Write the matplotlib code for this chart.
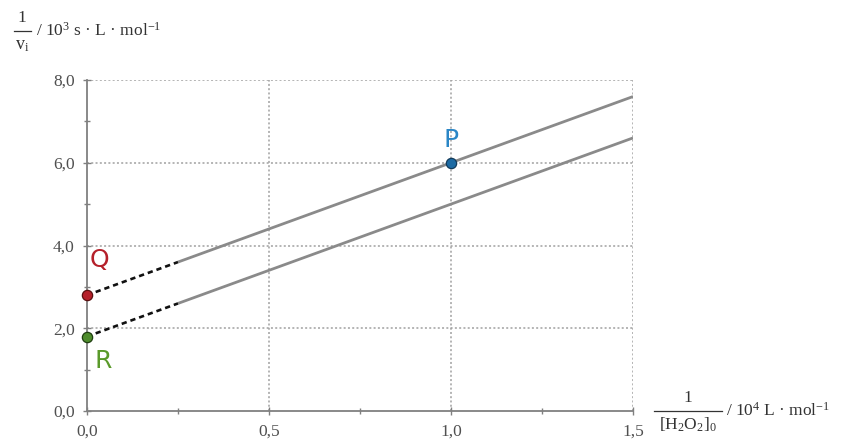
import matplotlib
matplotlib.use("Agg")
import matplotlib.pyplot as plt
import numpy as np

plt.rcParams['font.family'] = ['Liberation Serif', 'DejaVu Serif']
plt.rcParams['mathtext.fontset'] = 'custom'
plt.rcParams['mathtext.rm'] = 'Liberation Serif'
plt.rcParams['mathtext.it'] = 'Liberation Serif:italic'

# Lineweaver-Burk style lines: 1/v_i = intercept + slope * 1/[H2O2]_0
slope = 3.2
intercept_q = 2.8
intercept_r = 1.8
x_dash_end = 0.25
x_max = 1.5
point_p = (1.0, 6.0)

x_ticks = [0.0, 0.5, 1.0, 1.5]
x_tick_labels = ["0,0", "0,5", "1,0", "1,5"]
y_ticks = [0.0, 2.0, 4.0, 6.0, 8.0]
y_tick_labels = ["0,0", "2,0", "4,0", "6,0", "8,0"]

fig = plt.figure(figsize=(8.46, 4.41), dpi=100)
ax = fig.add_axes([87/846, 1-411/441, (633-87)/846, (411-80)/441])
ax.set_xlim(0, 1.5)
ax.set_ylim(0, 8)

line_col = '#8a8a8a'
for b in (intercept_q, intercept_r):
    xs = np.array([x_dash_end, x_max])
    ax.plot(xs, b + slope*xs, color=line_col, lw=2.0, zorder=3, solid_capstyle='butt')
    xd = np.array([0.0, x_dash_end])
    ax.plot(xd, b + slope*xd, color='#111111', lw=1.9, ls=(0, (2.0, 1.5)), zorder=3)

ax.scatter([point_p[0]], [point_p[1]], s=55, color='#1c6aa3', edgecolor='#123a5a', lw=0.9, zorder=5, clip_on=False)
ax.scatter([0.0], [intercept_q], s=55, color='#b5202a', edgecolor='#5a1010', lw=0.9, zorder=5, clip_on=False)
ax.scatter([0.0], [intercept_r], s=55, color='#4e8c2c', edgecolor='#1f3e10', lw=0.9, zorder=5, clip_on=False)

ax.text(point_p[0], point_p[1] + 0.55, "P", color='#2a86c6', fontsize=18, family='DejaVu Sans',
        ha='center', va='center')
ax.text(0.035, intercept_q + 0.85, "Q", color='#b5202a', fontsize=18, family='DejaVu Sans',
        ha='center', va='center')
ax.text(0.045, intercept_r - 0.6, "R", color='#5a9a2a', fontsize=18, family='DejaVu Sans',
        ha='center', va='center')

# grid
for xv in x_ticks[1:]:
    ax.axvline(xv, color='#a0a0a0', lw=1.1, ls=(0, (1.3, 1.5)), zorder=1)
for yv in y_ticks[1:]:
    ax.axhline(yv, color='#a0a0a0', lw=1.1, ls=(0, (1.3, 1.5)), zorder=1)

for s in ('top', 'right'):
    ax.spines[s].set_visible(False)
for s in ('left', 'bottom'):
    ax.spines[s].set_color('#808080')
    ax.spines[s].set_linewidth(1.3)

ax.set_xticks(x_ticks)
ax.set_xticklabels(x_tick_labels)
ax.set_yticks(y_ticks)
ax.set_yticklabels(y_tick_labels)
ax.set_xticks(np.arange(0.25, 1.5, 0.5), minor=True)
ax.set_yticks(np.arange(1.0, 8.0, 2.0), minor=True)
ax.tick_params(which='both', direction='inout', color='#808080', width=1.0)
ax.tick_params(which='major', length=6, labelsize=12.5, labelcolor='#505050')
ax.tick_params(which='minor', length=4)
ax.tick_params(axis='x', pad=6)
ax.tick_params(axis='y', pad=6)

# axis titles
txt_col = '#333333'
fig.text(22/846, 1-18/441, "1", fontsize=12.5, color=txt_col, ha='center', va='center')
fig.add_artist(plt.Line2D([14/846, 31/846], [1-31/441, 1-31/441], color=txt_col, lw=0.9))
fig.text(22/846, 1-45/441, r"v$_\mathregular{i}$", fontsize=13, color=txt_col, ha='center', va='center')
fig.text(36/846, 1-31/441, r"/ 10$^\mathregular{3}$ s · L · mol$^\mathregular{-1}$", fontsize=12.5,
         color=txt_col, ha='left', va='center')

fig.text(688/846, 1-398/441, "1", fontsize=12.5, color=txt_col, ha='center', va='center')
fig.add_artist(plt.Line2D([654/846, 722/846], [1-411/441, 1-411/441], color=txt_col, lw=0.9))
fig.text(688/846, 1-425/441, r"[H$_\mathregular{2}$O$_\mathregular{2}$]$_\mathregular{0}$", fontsize=12.5,
         color=txt_col, ha='center', va='center')
fig.text(726/846, 1-411/441, r"/ 10$^\mathregular{4}$ L · mol$^\mathregular{-1}$", fontsize=12.5,
         color=txt_col, ha='left', va='center')

fig.savefig("out.png", dpi=100)
